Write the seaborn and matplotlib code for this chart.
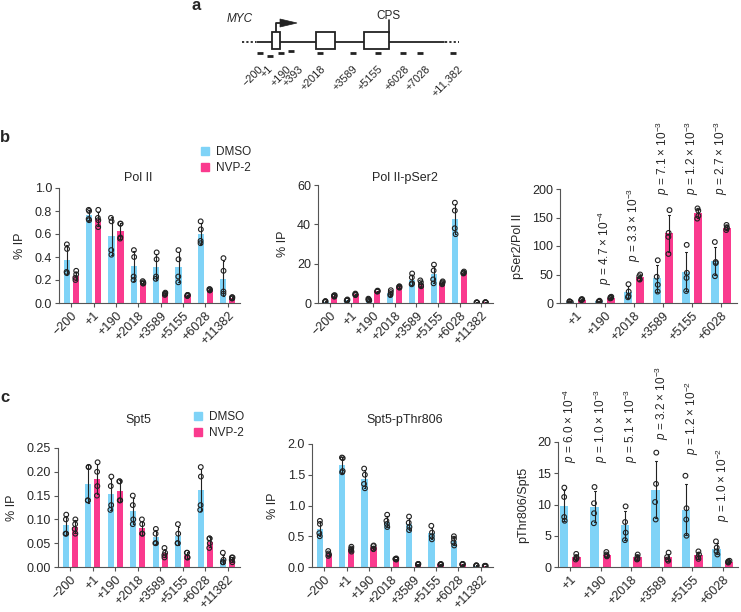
import numpy as np
import pandas as pd
import seaborn as sns
import matplotlib.pyplot as plt
from matplotlib.patches import Rectangle, Polygon, Patch

sns.set_style('ticks')
plt.rcParams['font.family'] = ['Liberation Sans', 'DejaVu Sans']
plt.rcParams['mathtext.fontset'] = 'custom'
plt.rcParams['mathtext.rm'] = 'Liberation Sans'
plt.rcParams['mathtext.it'] = 'Liberation Sans:italic'
plt.rcParams['mathtext.bf'] = 'Liberation Sans:bold'

np.random.seed(3)  # only for the strip jitter

conds = ['DMSO', 'NVP-2']
colors = {'DMSO': '#7fd3f7', 'NVP-2': '#fa3a8e'}

sites8 = ['\u2212200', '+1', '+190', '+2018', '+3589', '+5155', '+6028', '+11382']
sites6 = ['+1', '+190', '+2018', '+3589', '+5155', '+6028']

# panel a primers
primer_labels = ['\u2212200', '+1', '+190', '+393', '+2018', '+3589', '+5155', '+6028', '+7028', '+11,382']

# b: Pol II (% IP), n = 4
polii_dmso = [[0.51, 0.47, 0.27, 0.26], [0.81, 0.80, 0.73, 0.72], [0.74, 0.71, 0.46, 0.42],
              [0.46, 0.40, 0.23, 0.20], [0.44, 0.38, 0.23, 0.21], [0.46, 0.38, 0.23, 0.18],
              [0.71, 0.64, 0.54, 0.52], [0.39, 0.28, 0.10, 0.08]]
polii_nvp = [[0.28, 0.25, 0.22, 0.20], [0.81, 0.74, 0.72, 0.66], [0.69, 0.69, 0.57, 0.56],
             [0.19, 0.18, 0.17, 0.17], [0.09, 0.08, 0.08, 0.07], [0.07, 0.07, 0.065, 0.06],
             [0.12, 0.12, 0.11, 0.11], [0.05, 0.05, 0.04, 0.04]]

# b: Pol II-pSer2 (% IP)
pser2_dmso = [[1.0, 0.8, 0.6, 0.5], [1.8, 1.5, 1.3, 1.2], [2.2, 1.8, 1.5, 1.2],
              [6.5, 5.5, 4.5, 4.0], [15.0, 13.0, 10.0, 9.5], [19.5, 16.5, 12.0, 10.0],
              [51.0, 47.0, 38.0, 35.0], [0.3, 0.3, 0.2, 0.2]]
pser2_nvp = [[4.0, 3.8, 3.5, 3.2], [4.8, 4.5, 4.2, 4.0], [6.3, 6.1, 5.9, 5.8],
             [8.5, 8.3, 8.0, 7.8], [11.5, 10.5, 9.0, 8.5], [11.0, 10.5, 10.0, 9.5],
             [16.0, 15.5, 15.2, 15.0], [0.4, 0.3, 0.3, 0.3]]

# b: pSer2 / Pol II ratio
ratio2_dmso = [[3, 2.5, 2, 1.5], [4, 3, 2.5, 2], [33, 20, 12, 10],
               [75, 46, 32, 20], [102, 53, 44, 21], [107, 72, 70, 47]]
ratio2_nvp = [[7, 6, 5.5, 5], [11, 10, 9, 8], [50, 47, 42, 41],
              [163, 123, 116, 86], [166, 162, 153, 148], [137, 133, 131, 128]]
ratio2_p = [None, ('4.7', '4'), ('3.3', '3'), ('7.1', '3'), ('1.2', '3'), ('2.7', '3')]
ratio2_py = [None, 32, 72, 189, 189, 189]

# c: Spt5 (% IP)
spt5_dmso = [[0.11, 0.10, 0.07, 0.07], [0.21, 0.21, 0.14, 0.14], [0.19, 0.17, 0.13, 0.12],
             [0.15, 0.13, 0.10, 0.09], [0.08, 0.07, 0.05, 0.05], [0.09, 0.07, 0.05, 0.05],
             [0.21, 0.19, 0.13, 0.12], [0.03, 0.015, 0.01, 0.01]]
spt5_nvp = [[0.10, 0.09, 0.08, 0.07], [0.22, 0.20, 0.17, 0.15], [0.18, 0.18, 0.14, 0.14],
            [0.10, 0.09, 0.07, 0.07], [0.04, 0.03, 0.025, 0.02], [0.03, 0.03, 0.02, 0.02],
            [0.06, 0.06, 0.05, 0.04], [0.02, 0.02, 0.015, 0.01]]

# c: Spt5-pThr806 (% IP)
pthr_dmso = [[0.75, 0.70, 0.55, 0.50], [1.78, 1.77, 1.56, 1.54], [1.60, 1.50, 1.35, 1.28],
             [0.85, 0.75, 0.70, 0.65], [0.82, 0.72, 0.65, 0.60], [0.67, 0.56, 0.50, 0.45],
             [0.50, 0.46, 0.40, 0.35], [0.03, 0.02, 0.02, 0.02]]
pthr_nvp = [[0.26, 0.22, 0.20, 0.18], [0.33, 0.30, 0.27, 0.25], [0.35, 0.34, 0.30, 0.29],
            [0.14, 0.13, 0.13, 0.12], [0.05, 0.05, 0.04, 0.04], [0.05, 0.04, 0.04, 0.04],
            [0.05, 0.05, 0.04, 0.04], [0.02, 0.02, 0.01, 0.01]]

# c: pThr806 / Spt5 ratio
ratio5_dmso = [[12.7, 11.2, 8.0, 7.4], [12.8, 10.2, 8.6, 7.0], [9.7, 7.2, 5.5, 4.3],
               [18.3, 13.3, 10.4, 7.6], [14.6, 9.4, 7.6, 5.0], [4.1, 3.1, 2.5, 2.0]]
ratio5_nvp = [[2.1, 1.6, 1.4, 1.2], [2.4, 2.0, 1.8, 1.7], [2.0, 1.6, 1.3, 1.2],
              [2.3, 1.6, 1.2, 1.0], [2.5, 2.0, 1.6, 1.3], [1.0, 0.9, 0.8, 0.7]]
ratio5_p = [('6.0', '4'), ('1.0', '3'), ('5.1', '3'), ('3.2', '3'), ('1.2', '2'), ('1.0', '2')]
ratio5_py = [16.6, 16.6, 16.6, 20.3, 17.9, 7.2]

W, H = 741, 612
fig = plt.figure(figsize=(W / 100, H / 100), dpi=100)


def px_axes(l, r, t, b):
    return fig.add_axes([l / W, 1 - b / H, (r - l) / W, (b - t) / H])


def make_df(sites, dmso, nvp):
    rows = []
    for s, d, n in zip(sites, dmso, nvp):
        rows += [(s, 'DMSO', v) for v in d]
        rows += [(s, 'NVP-2', v) for v in n]
    return pd.DataFrame(rows, columns=['site', 'cond', 'val'])


def draw(ax, sites, dmso, nvp, ylim, yticks, fmt, ylabel):
    df = make_df(sites, dmso, nvp)
    sns.barplot(data=df, x='site', y='val', hue='cond', order=sites, hue_order=conds,
                palette=colors, saturation=1, errorbar='sd', width=0.8, gap=0.3,
                capsize=0.12, linewidth=0, err_kws={'color': '#222', 'linewidth': 0.8},
                legend=False, ax=ax)
    n0 = len(ax.collections)
    sns.stripplot(data=df, x='site', y='val', hue='cond', order=sites, hue_order=conds,
                  palette=colors, dodge=True, jitter=0.05, size=3.4, linewidth=0.8,
                  edgecolor='#222', legend=False, ax=ax, zorder=4)
    for c in ax.collections[n0:]:
        c.set_facecolor('none')
    ax.set_xlim(-0.55, len(sites) - 0.45)
    ax.set_ylim(*ylim)
    ax.set_yticks(yticks)
    ax.set_yticklabels([fmt.format(v) for v in yticks])
    ax.set_xticks(range(len(sites)))
    ax.set_xticklabels(sites, rotation=45, ha='right', rotation_mode='anchor')
    ax.set_xlabel('')
    ax.set_ylabel(ylabel, fontsize=9, labelpad=6)
    sns.despine(ax=ax)
    for sp in ['left', 'bottom']:
        ax.spines[sp].set_color('#555')
        ax.spines[sp].set_linewidth(0.8)
    ax.tick_params(length=3, width=0.8, color='#555', labelsize=9, pad=2)


def p_texts(ax, pvals, ys):
    for i, (pv, y) in enumerate(zip(pvals, ys)):
        if pv is None:
            continue
        ax.text(i, y, '$p$ = %s \u00d7 10$^{-%s}$' % pv, rotation=90, ha='center',
                va='bottom', fontsize=8.5, clip_on=False)


# ---- panel a: schematic ----
ax_a = px_axes(180, 480, 0, 120)
ax_a.set_xlim(180, 480)
ax_a.set_ylim(120, 0)
ax_a.axis('off')
lc = '#222'
ax_a.plot([242, 256], [42, 42], color=lc, lw=1.3, ls=(0, (1.2, 1.2)))
ax_a.plot([257, 444], [42, 42], color=lc, lw=1.3)
ax_a.plot([445, 459], [42, 42], color=lc, lw=1.3, ls=(0, (1.2, 1.2)))
for x0, w in [(272, 8), (316, 19), (364, 25)]:
    ax_a.add_patch(Rectangle((x0, 32), w, 17, fc='white', ec=lc, lw=1.3, zorder=3))
ax_a.plot([276, 276, 281], [32, 23, 23], color=lc, lw=1.3)
ax_a.add_patch(Polygon([(280, 19), (297, 23), (280, 27)], closed=True, fc=lc, ec=lc, lw=0.5))
ax_a.plot([389, 389], [20, 33], color=lc, lw=1.2)
ax_a.text(388, 16, 'CPS', ha='center', va='center', fontsize=8.5)
ax_a.text(227, 19, 'MYC', ha='left', va='center', fontsize=8.5, style='italic')
primer_x = [260, 270, 281, 291, 320, 353, 378, 403, 420, 453]
primer_y = [53, 56, 53, 51, 53, 53, 53, 53, 53, 53]
label_x = [258, 268, 286, 298, 320, 352, 378, 404, 425, 457]
for x, y in zip(primer_x, primer_y):
    ax_a.plot([x - 3, x + 3], [y, y], color=lc, lw=2, solid_capstyle='butt')
for lab, x in zip(primer_labels, label_x):
    ax_a.text(x, 64, lab, rotation=45, ha='right', va='top', rotation_mode='anchor', fontsize=7.8)

# ---- panel b ----
ax_b1 = px_axes(59, 240, 188, 303)
draw(ax_b1, sites8, polii_dmso, polii_nvp, (0, 1.0), np.arange(0, 1.01, 0.2), '{:.1f}', '% IP')
ax_b2 = px_axes(318, 493, 185, 303)
draw(ax_b2, sites8, pser2_dmso, pser2_nvp, (0, 60), [0, 20, 40, 60], '{:.0f}', '% IP')
ax_b3 = px_axes(560, 737, 189, 303)
draw(ax_b3, sites6, ratio2_dmso, ratio2_nvp, (0, 200), [0, 50, 100, 150, 200], '{:.0f}', 'pSer2/Pol II')
p_texts(ax_b3, ratio2_p, ratio2_py)

# ---- panel c ----
ax_c1 = px_axes(58, 240, 448, 567)
draw(ax_c1, sites8, spt5_dmso, spt5_nvp, (0, 0.25), np.arange(0, 0.251, 0.05), '{:.2f}', '% IP')
ax_c2 = px_axes(312, 493, 444, 567)
draw(ax_c2, sites8, pthr_dmso, pthr_nvp, (0, 2.0), np.arange(0, 2.01, 0.5), '{:.1f}', '% IP')
ax_c3 = px_axes(558, 738, 442, 567)
draw(ax_c3, sites6, ratio5_dmso, ratio5_nvp, (0, 20), [0, 5, 10, 15, 20], '{:.0f}', 'pThr806/Spt5')
ax_c3.set_xlim(-0.4, 5.5)
p_texts(ax_c3, ratio5_p, ratio5_py)

# panel titles (pixel positions as in the figure)
for t, x, y in [('Pol II', 138, 178), ('Pol II-pSer2', 405, 178),
                ('Spt5', 138, 420), ('Spt5-pThr806', 405, 420)]:
    fig.text(x / W, 1 - y / H, t, fontsize=9, ha='center', va='center')

handles = [Patch(color=colors[c]) for c in conds]
for lx, ly in [(201, 146), (194, 411)]:
    fig.legend(handles, conds, loc='upper left', bbox_to_anchor=(lx / W, 1 - ly / H),
               frameon=False, fontsize=8.5, handlelength=0.7, handleheight=0.7,
               handletextpad=0.6, labelspacing=0.35, borderpad=0, borderaxespad=0)

for lab, x, y in [('a', 192, 6), ('b', 0, 137), ('c', 0, 397)]:
    fig.text(x / W, 1 - y / H, lab, fontsize=12, fontweight='bold', ha='left', va='center')

fig.savefig('out.png', dpi=100)
